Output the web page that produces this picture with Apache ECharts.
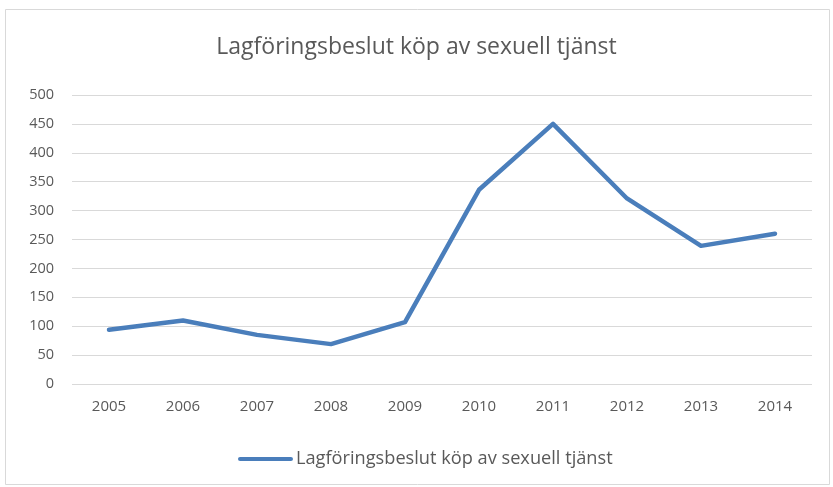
<!DOCTYPE html>
<html>
<head>
<meta charset="utf-8">
<script src="https://cdn.jsdelivr.net/npm/echarts@6/dist/echarts.min.js"></script>
<style>
  html, body { margin: 0; padding: 0; background: #fff; }
  #chart { width: 833px; height: 487px; }
</style>
</head>
<body>
<div id="chart"></div>
<script>
// Yearly counts of prosecution decisions for purchase of sexual services
const years = ['2005', '2006', '2007', '2008', '2009', '2010', '2011', '2012', '2013', '2014'];
const decisions = [94, 110, 85, 69, 107, 336, 450, 321, 239, 260];
const seriesName = 'Lagföringsbeslut köp av sexuell tjänst';
const titleText = 'Lagföringsbeslut köp av sexuell tjänst';

const textColor = '#595959';
const lineColor = '#4a7ebb';
const font = 'Open Sans';

const chart = echarts.init(document.getElementById('chart'), null, { renderer: 'canvas' });
chart.setOption({
  animation: false,
  backgroundColor: '#fff',
  graphic: [{
    type: 'rect',
    shape: { x: 5.5, y: 9.5, width: 824, height: 475 },
    style: { fill: 'none', stroke: '#d9d9d9', lineWidth: 1 },
    silent: true
  }],
  title: {
    text: titleText,
    left: 'center',
    top: 31,
    textStyle: { fontFamily: font, fontSize: 23, fontWeight: 'normal', color: textColor }
  },
  grid: { left: 72, right: 21, top: 95, bottom: 103, containLabel: false },
  xAxis: {
    type: 'category',
    data: years,
    boundaryGap: true,
    axisLine: { show: false },
    axisTick: { show: false },
    axisLabel: { color: textColor, fontFamily: font, fontSize: 15, margin: 15 }
  },
  yAxis: {
    type: 'value',
    min: 0,
    max: 500,
    interval: 50,
    axisLine: { show: false },
    axisTick: { show: false },
    axisLabel: { color: textColor, fontFamily: font, fontSize: 14.5, margin: 18 },
    splitLine: { lineStyle: { color: '#d9d9d9', width: 1 } }
  },
  legend: {
    data: [{ name: seriesName, icon: 'path://M2,0 L52,0 A2,2 0 0 1 52,4 L2,4 A2,2 0 0 1 2,0 Z' }],
    left: 233,
    top: 445,
    itemWidth: 55,
    itemHeight: 5,
    itemGap: 4,
    textStyle: { color: textColor, fontFamily: font, fontSize: 18.2, padding: [0, 0, 0, -2] }
  },
  series: [{
    name: seriesName,
    type: 'line',
    data: decisions,
    showSymbol: false,
    symbol: 'none',
    lineStyle: { color: lineColor, width: 4.5, cap: 'round', join: 'round' },
    itemStyle: { color: lineColor }
  }]
});
</script>
</body>
</html>
